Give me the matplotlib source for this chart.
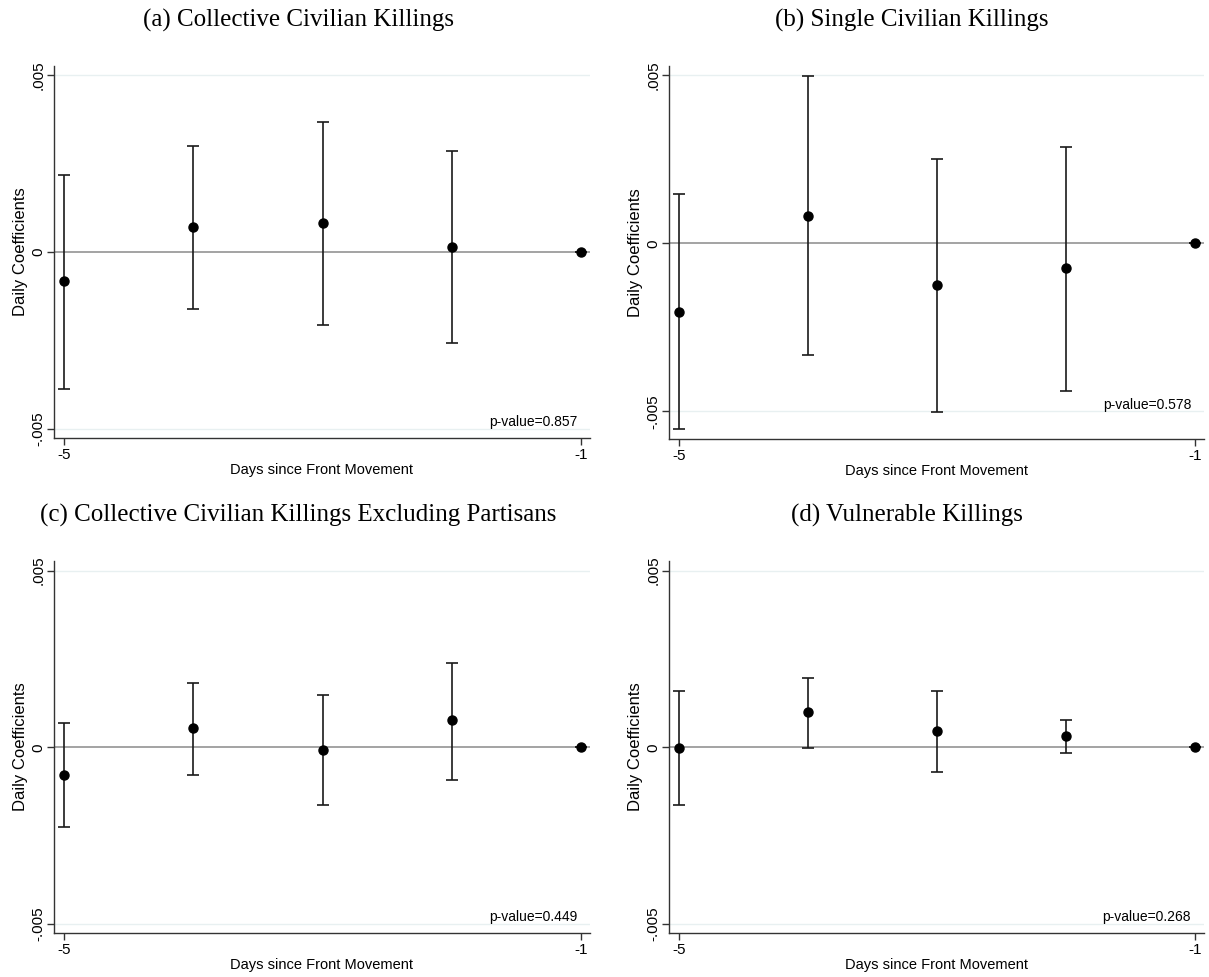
import matplotlib
matplotlib.use("Agg")
from matplotlib import pyplot as plt

days = [-5, -4, -3, -2, -1]

titles = ["(a) Collective Civilian Killings",
          "(b) Single Civilian Killings",
          "(c) Collective Civilian Killings Excluding Partisans",
          "(d) Vulnerable Killings"]

# point estimates and 95% CI bounds
coef_a = [-0.00081, 0.000715, 0.00083, 0.00016, 0.0]
lo_a = [-0.00386, -0.00161, -0.00205, -0.00257, 0.0]
hi_a = [0.00218, 0.00301, 0.00368, 0.00285, 0.0]

coef_b = [-0.00204, 0.00083, -0.00125, -0.00074, 0.0]
lo_b = [-0.00553, -0.00332, -0.00501, -0.00438, 0.0]
hi_b = [0.00146, 0.00497, 0.0025, 0.00288, 0.0]

coef_c = [-0.00078, 0.00054, -0.00007, 0.00076, 0.0]
lo_c = [-0.00226, -0.00078, -0.00164, -0.00092, 0.0]
hi_c = [0.00069, 0.00182, 0.00148, 0.00239, 0.0]

coef_d = [-0.00001, 0.00099, 0.00046, 0.00032, 0.0]
lo_d = [-0.00163, -0.00001, -0.00071, -0.00016, 0.0]
hi_d = [0.00158, 0.00195, 0.00159, 0.00078, 0.0]

pvalues = ["0.857", "0.578", "0.449", "0.268"]

yticks = [-0.005, 0, 0.005]
ytick_labels = ["-.005", "0", ".005"]
xticks = [-5, -1]
xtick_labels = ["-5", "-1"]

ylims = [(-0.00525, 0.00526), (-0.00582, 0.00528),
         (-0.00525, 0.00527), (-0.00525, 0.00527)]

plt.rcParams['font.family'] = ['Liberation Sans', 'DejaVu Sans']

fig = plt.figure(figsize=(12.09, 9.77), dpi=100)

boxes = [[54/1209, 1 - 438/977, 536/1209, 372/977],
         [669/1209, 1 - 439/977, 535/1209, 373/977],
         [54/1209, 1 - 933/977, 536/1209, 372/977],
         [669/1209, 1 - 933/977, 535/1209, 372/977]]
title_pos = [(0.247, 0.979), (0.754, 0.979), (0.247, 0.472), (0.750, 0.472)]

series = [(coef_a, lo_a, hi_a), (coef_b, lo_b, hi_b),
          (coef_c, lo_c, hi_c), (coef_d, lo_d, hi_d)]

for i, (coef, lo, hi) in enumerate(series):
    ax = fig.add_axes(boxes[i])
    err = [[c - l for c, l in zip(coef, lo)], [h - c for c, h in zip(coef, hi)]]

    for y in [-0.005, 0.005]:
        ax.axhline(y, color='#e8f0f1', lw=1, zorder=0)
    ax.axhline(0, color='#8a8a8a', lw=1.1, zorder=1)

    ax.errorbar(days, coef, yerr=err, fmt='o', color='black', ecolor='#1a1a1a',
                elinewidth=1.2, capsize=4, capthick=1.2, markersize=6.5, zorder=3)

    ax.set_xlim(-5.078, -0.93)
    ax.set_ylim(*ylims[i])
    ax.set_xticks(xticks)
    ax.set_xticklabels(xtick_labels, fontsize=11)
    ax.set_yticks(yticks)
    ax.set_yticklabels(ytick_labels, fontsize=11, rotation=90, va='center')
    ax.tick_params(direction='out', length=5, width=1, color='#333333')
    ax.tick_params(axis='y', pad=1)
    ax.tick_params(axis='x', pad=2)

    for s in ['top', 'right']:
        ax.spines[s].set_visible(False)
    for s in ['left', 'bottom']:
        ax.spines[s].set_color('#333333')
        ax.spines[s].set_linewidth(1)

    ax.set_xlabel("Days since Front Movement", fontsize=10.5, labelpad=1)
    ax.set_ylabel("Daily Coefficients", fontsize=12, labelpad=2.5)

    ax.text(-1.03, -0.0048, "p-value=" + pvalues[i], ha='right', va='center',
            fontsize=10)

    fig.text(title_pos[i][0], title_pos[i][1], titles[i], ha='center', va='center',
             fontsize=18, family='Liberation Serif')

fig.savefig("out.png", dpi=100)
